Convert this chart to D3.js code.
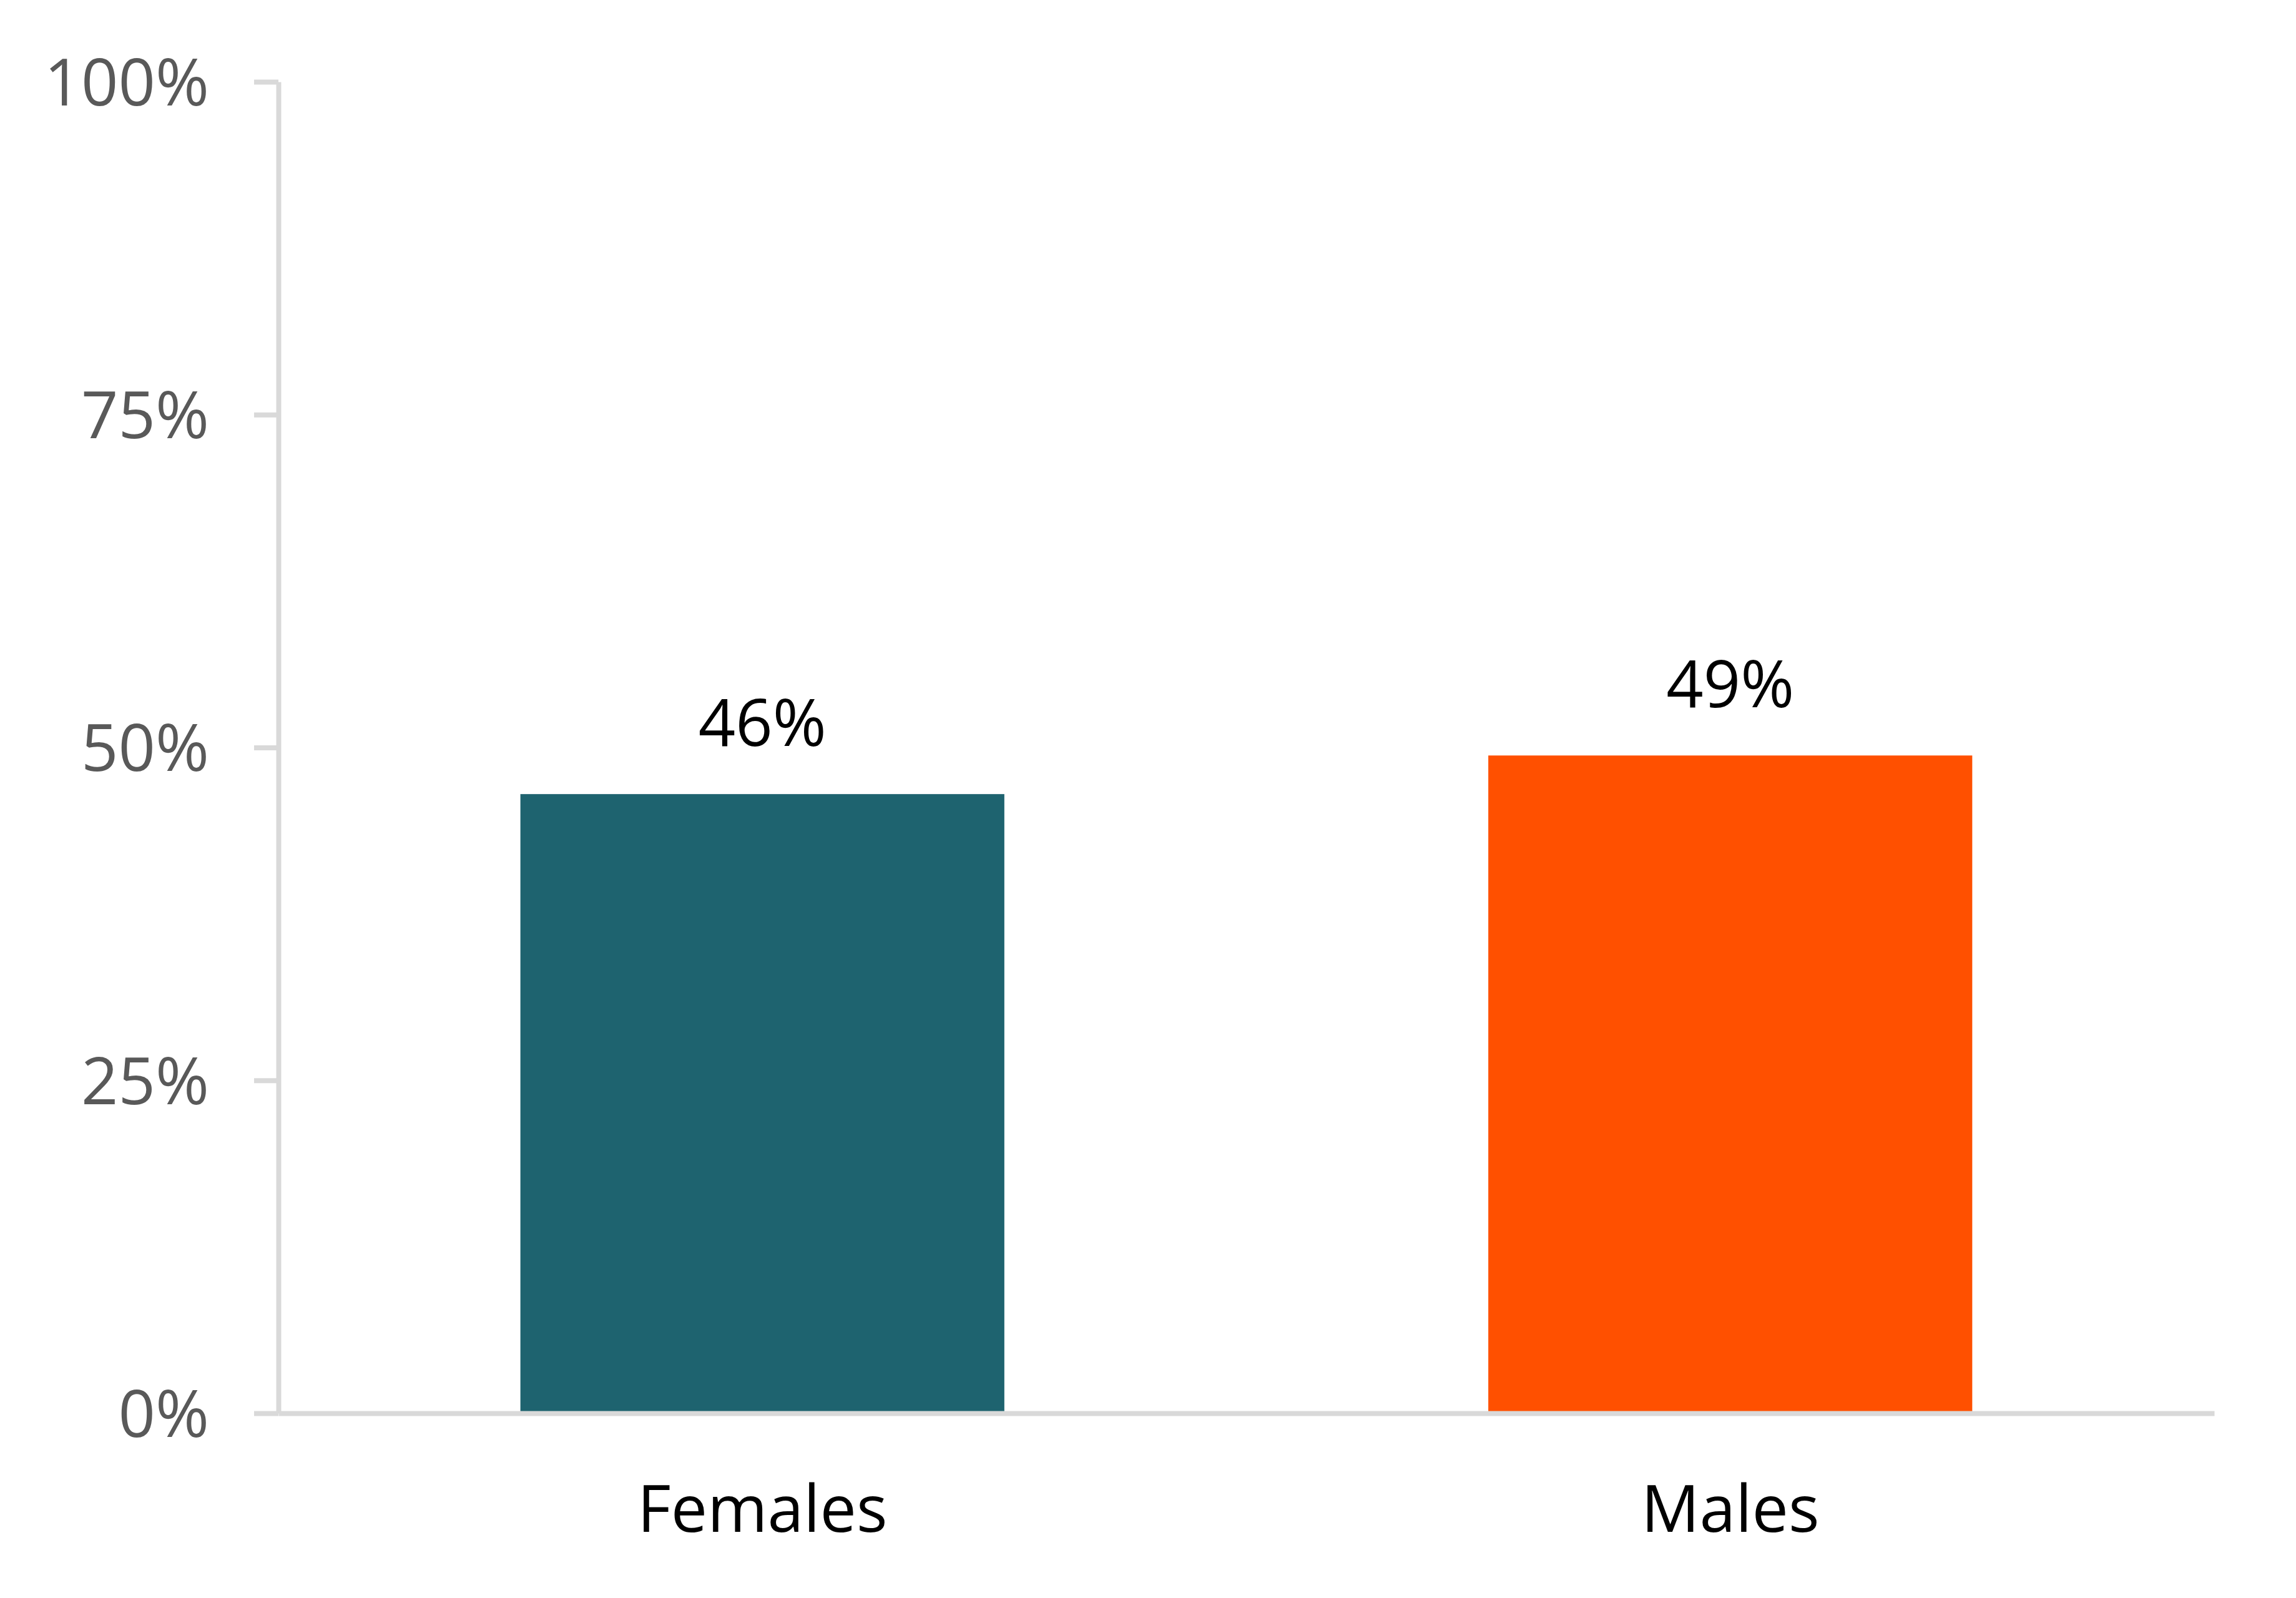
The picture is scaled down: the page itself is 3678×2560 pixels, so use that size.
<!DOCTYPE html>
<html>
<head>
<meta charset="utf-8">
<script src="https://cdn.jsdelivr.net/npm/d3@7"></script>
<style>
    body { margin: 0; background: #fff; }
    svg { display: block; }
    text { font-family: "Open Sans", "Noto Sans", sans-serif; }
</style>
</head>
<body>
<div id="chart"></div>
<script>
// chart data
const categories = ["Females", "Males"];
const values = [0.465, 0.494];
const labels = ["46%", "49%"];
const tickValues = [0, 0.25, 0.5, 0.75, 1];
const barColors = ["#1E636F", "#FF5000"];

(function() {
    const width = 3678;
    const height = 2560;
    const margin = { top: 131, right: 131, bottom: 296, left: 446 };
    const inner_w = width - margin.left - margin.right;
    const inner_h = height - margin.top - margin.bottom;
    const axisColor = "#D9D9D9";
    const fontSize = 104;

    const svg = d3.select("#chart")
        .append("svg")
        .attr("width", width)
        .attr("height", height);

    svg.append("rect")
        .attr("width", width)
        .attr("height", height)
        .attr("fill", "#fff");

    const g = svg.append("g")
        .attr("transform", `translate(${margin.left},${margin.top})`);

    const x = d3.scaleBand()
        .domain(categories)
        .range([0, inner_w])
        .paddingInner(0.5)
        .paddingOuter(0.25);

    const y = d3.scaleLinear()
        .domain([0, 1])
        .range([inner_h, 0]);

    // Bars
    g.selectAll("rect.bar")
        .data(categories)
        .enter()
        .append("rect")
        .attr("class", "bar")
        .attr("x", d => x(d))
        .attr("y", (d, i) => y(values[i]))
        .attr("width", x.bandwidth())
        .attr("height", (d, i) => inner_h - y(values[i]))
        .attr("fill", (d, i) => barColors[i]);

    // Y-axis
    const yAxis = g.append("g")
        .call(d3.axisLeft(y)
            .tickValues(tickValues)
            .tickFormat(d3.format(".0%"))
            .tickSizeInner(39)
            .tickSizeOuter(0)
            .tickPadding(72));

    yAxis.select(".domain")
        .attr("stroke", axisColor)
        .attr("stroke-width", 8);
    yAxis.selectAll(".tick line")
        .attr("stroke", axisColor)
        .attr("stroke-width", 8);
    yAxis.selectAll(".tick text")
        .attr("fill", "#595959")
        .attr("font-size", fontSize)
        .attr("dy", "0.36em");

    // X-axis
    const xAxis = g.append("g")
        .attr("transform", `translate(0,${inner_h})`)
        .call(d3.axisBottom(x)
            .tickSize(0)
            .tickPadding(116));

    xAxis.select(".domain")
        .attr("stroke", axisColor)
        .attr("stroke-width", 8);
    xAxis.selectAll(".tick text")
        .attr("fill", "#000")
        .attr("font-size", fontSize)
        .attr("dy", "0.71em");

    // Data labels
    g.selectAll("text.value")
        .data(categories)
        .enter()
        .append("text")
        .attr("class", "value")
        .attr("x", d => x(d) + x.bandwidth() / 2)
        .attr("y", (d, i) => y(values[i]) - 77)
        .attr("text-anchor", "middle")
        .attr("font-size", fontSize)
        .attr("fill", "#000")
        .text((d, i) => labels[i]);
})();
</script>
</body>
</html>
